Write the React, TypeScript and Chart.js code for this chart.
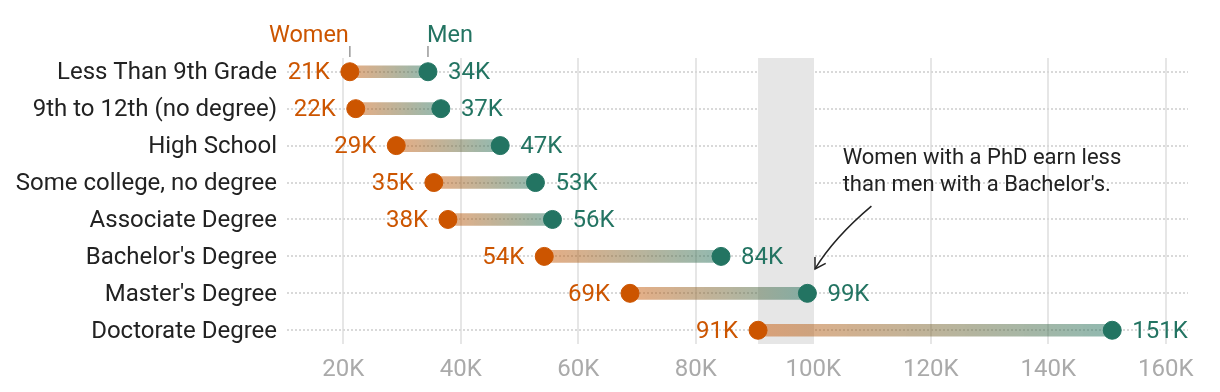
import React, { useEffect, useRef } from "react";
import { Chart, registerables } from "chart.js";

Chart.register(...registerables);

const categories = [
  "Less Than 9th Grade",
  "9th to 12th (no degree)",
  "High School",
  "Some college, no degree",
  "Associate Degree",
  "Bachelor's Degree",
  "Master's Degree",
  "Doctorate Degree",
];
const womenEarnings = [21100, 22100, 29000, 35400, 37800, 54200, 68800, 90600];
const menEarnings = [34400, 36600, 46700, 52700, 55600, 84300, 99000, 150900];
const xTickValues = [20000, 40000, 60000, 80000, 100000, 120000, 140000, 160000];
const highlightBand = [90600, 100000];
const annotationLines = ["Women with a PhD earn less", "than men with a Bachelor's."];
const seriesNames = ["Women", "Men"];

const WOMEN = "#cc5500";
const MEN = "#237462";
const WOMEN_A = "rgba(204,85,0,0.48)";
const MEN_A = "rgba(35,116,98,0.5)";
const FONT = "Roboto";

const fmtK = (v: number) => Math.round(v / 1000) + "K";

const overlayPlugin = {
  id: "overlay",
  beforeDatasetsDraw(chart: any) {
    const { ctx, chartArea, scales } = chart;
    const x0 = scales.x.getPixelForValue(highlightBand[0]);
    const x1 = scales.x.getPixelForValue(highlightBand[1]);
    ctx.save();
    ctx.fillStyle = "#e6e6e6";
    ctx.fillRect(x0, chartArea.top, x1 - x0, chartArea.bottom - chartArea.top);
    ctx.restore();
  },
  afterDatasetsDraw(chart: any) {
    const { ctx, chartArea, scales } = chart;
    const xs = scales.x;
    const ys = scales.y;
    ctx.save();
    ctx.font = `24px ${FONT}`;
    ctx.textBaseline = "middle";
    categories.forEach((_, i) => {
      const y = ys.getPixelForValue(i);
      const xw = xs.getPixelForValue(womenEarnings[i]);
      const xm = xs.getPixelForValue(menEarnings[i]);
      ctx.fillStyle = WOMEN;
      ctx.textAlign = "right";
      ctx.fillText(fmtK(womenEarnings[i]), xw - 20, y + 1.5);
      ctx.fillStyle = MEN;
      ctx.textAlign = "left";
      ctx.fillText(fmtK(menEarnings[i]), xm + 20, y + 1.5);
    });

    // series legend above first row
    const lw = xs.getPixelForValue(womenEarnings[0]);
    const lm = xs.getPixelForValue(menEarnings[0]);
    ctx.font = `23.5px ${FONT}`;
    ctx.textBaseline = "alphabetic";
    ctx.fillStyle = WOMEN;
    ctx.textAlign = "right";
    ctx.fillText(seriesNames[0], lw - 1, chartArea.top - 16);
    ctx.fillStyle = MEN;
    ctx.textAlign = "left";
    ctx.fillText(seriesNames[1], lm - 1, chartArea.top - 16);
    ctx.strokeStyle = "#999";
    ctx.lineWidth = 1.5;
    ctx.beginPath();
    ctx.moveTo(lw, chartArea.top - 12);
    ctx.lineTo(lw, chartArea.top - 1);
    ctx.moveTo(lm, chartArea.top - 12);
    ctx.lineTo(lm, chartArea.top - 1);
    ctx.stroke();

    // annotation
    ctx.fillStyle = "#222";
    ctx.font = `22px ${FONT}`;
    ctx.textAlign = "left";
    ctx.textBaseline = "middle";
    const ax = xs.getPixelForValue(105000);
    const ay = ys.getPixelForValue(2.36);
    annotationLines.forEach((t, k) => ctx.fillText(t, ax, ay + k * 26.5));

    const sx = xs.getPixelForValue(109900), sy = ys.getPixelForValue(3.64);
    const cx = xs.getPixelForValue(103500), cy = ys.getPixelForValue(4.5);
    const ex = xs.getPixelForValue(100300), ey = ys.getPixelForValue(5.34);
    ctx.strokeStyle = "#222";
    ctx.lineWidth = 1.5;
    ctx.beginPath();
    ctx.moveTo(sx, sy);
    ctx.quadraticCurveTo(cx, cy, ex, ey);
    ctx.stroke();
    const ang = Math.atan2(ey - cy, ex - cx) + Math.PI;
    const L = 12;
    ctx.beginPath();
    ctx.moveTo(ex + L * Math.cos(ang + 0.55), ey + L * Math.sin(ang + 0.55));
    ctx.lineTo(ex, ey);
    ctx.lineTo(ex + L * Math.cos(ang - 0.55), ey + L * Math.sin(ang - 0.55));
    ctx.stroke();
    ctx.restore();
  },
};

export default function App() {
  const canvasRef = useRef<HTMLCanvasElement | null>(null);

  useEffect(() => {
    document.body.style.margin = "0";
    const canvas = canvasRef.current;
    if (!canvas) return;
    Chart.defaults.font.family = FONT;

    const chart = new Chart(canvas, {
      type: "bar",
      data: {
        datasets: [
          {
            type: "scatter",
            label: seriesNames[1],
            data: menEarnings.map((v, i) => ({ x: v, y: i })),
            backgroundColor: MEN,
            borderColor: MEN,
            pointRadius: 9,
            borderWidth: 1,
            order: 0,
          } as any,
          {
            type: "scatter",
            label: seriesNames[0],
            data: womenEarnings.map((v, i) => ({ x: v, y: i })),
            backgroundColor: WOMEN,
            borderColor: WOMEN,
            pointRadius: 9,
            borderWidth: 1,
            order: 0,
          } as any,
          {
            type: "bar",
            label: "gap",
            data: womenEarnings.map((v, i) => ({ x: [v, menEarnings[i]], y: i })),
            barThickness: 12,
            borderWidth: 0,
            order: 1,
            backgroundColor: (c: any) => {
              const chart = c.chart;
              const xs = chart.scales?.x;
              if (!xs || c.dataIndex === undefined) return WOMEN_A;
              const i = c.dataIndex;
              const x0 = xs.getPixelForValue(womenEarnings[i]);
              const x1 = xs.getPixelForValue(menEarnings[i]);
              if (!isFinite(x0) || !isFinite(x1) || x0 === x1) return WOMEN_A;
              const g = chart.ctx.createLinearGradient(x0, 0, x1, 0);
              g.addColorStop(0, WOMEN_A);
              g.addColorStop(1, MEN_A);
              return g;
            },
          } as any,
        ],
      },
      options: {
        indexAxis: "y",
        animation: false,
        responsive: false,
        maintainAspectRatio: false,
        layout: { padding: { top: 58, right: 32, left: 0, bottom: 0 } },
        plugins: {
          legend: { display: false },
          tooltip: { enabled: false },
        },
        scales: {
          x: {
            type: "linear",
            min: 10400,
            max: 163800,
            offset: false,
            afterBuildTicks: (s: any) => {
              s.ticks = xTickValues.map((v) => ({ value: v }));
            },
            afterFit: (s: any) => {
              s.height = 48;
            },
            border: { display: false },
            grid: { color: "#e6e6e6", lineWidth: 2, drawTicks: false, offset: false },
            ticks: {
              padding: 12,
              color: "#aaaaaa",
              font: { size: 24, family: FONT },
              callback: (v: any) => fmtK(Number(v)),
              maxRotation: 0,
              autoSkip: false,
            },
          },
          y: {
            type: "linear",
            reverse: true,
            offset: false,
            min: -0.372,
            max: 7.372,
            afterBuildTicks: (s: any) => {
              s.ticks = categories.map((_, i) => ({ value: i }));
            },
            afterFit: (s: any) => {
              s.width = 287;
            },
            border: { display: false, dash: [2, 2] },
            grid: {
              color: "#d9d9d9",
              lineWidth: 2,
              drawTicks: false,
              offset: false,
            },
            ticks: {
              padding: 10,
              labelOffset: 1.5,
              color: "#222222",
              font: { size: 24, family: FONT },
              callback: (v: any) => categories[Number(v)] ?? "",
              autoSkip: false,
            },
          },
        },
      } as any,
      plugins: [overlayPlugin],
    });

    return () => chart.destroy();
  }, []);

  return (
    <div style={{ width: 1220, height: 392 }}>
      <canvas ref={canvasRef} width={1220} height={392} style={{ display: "block" }} />
    </div>
  );
}
